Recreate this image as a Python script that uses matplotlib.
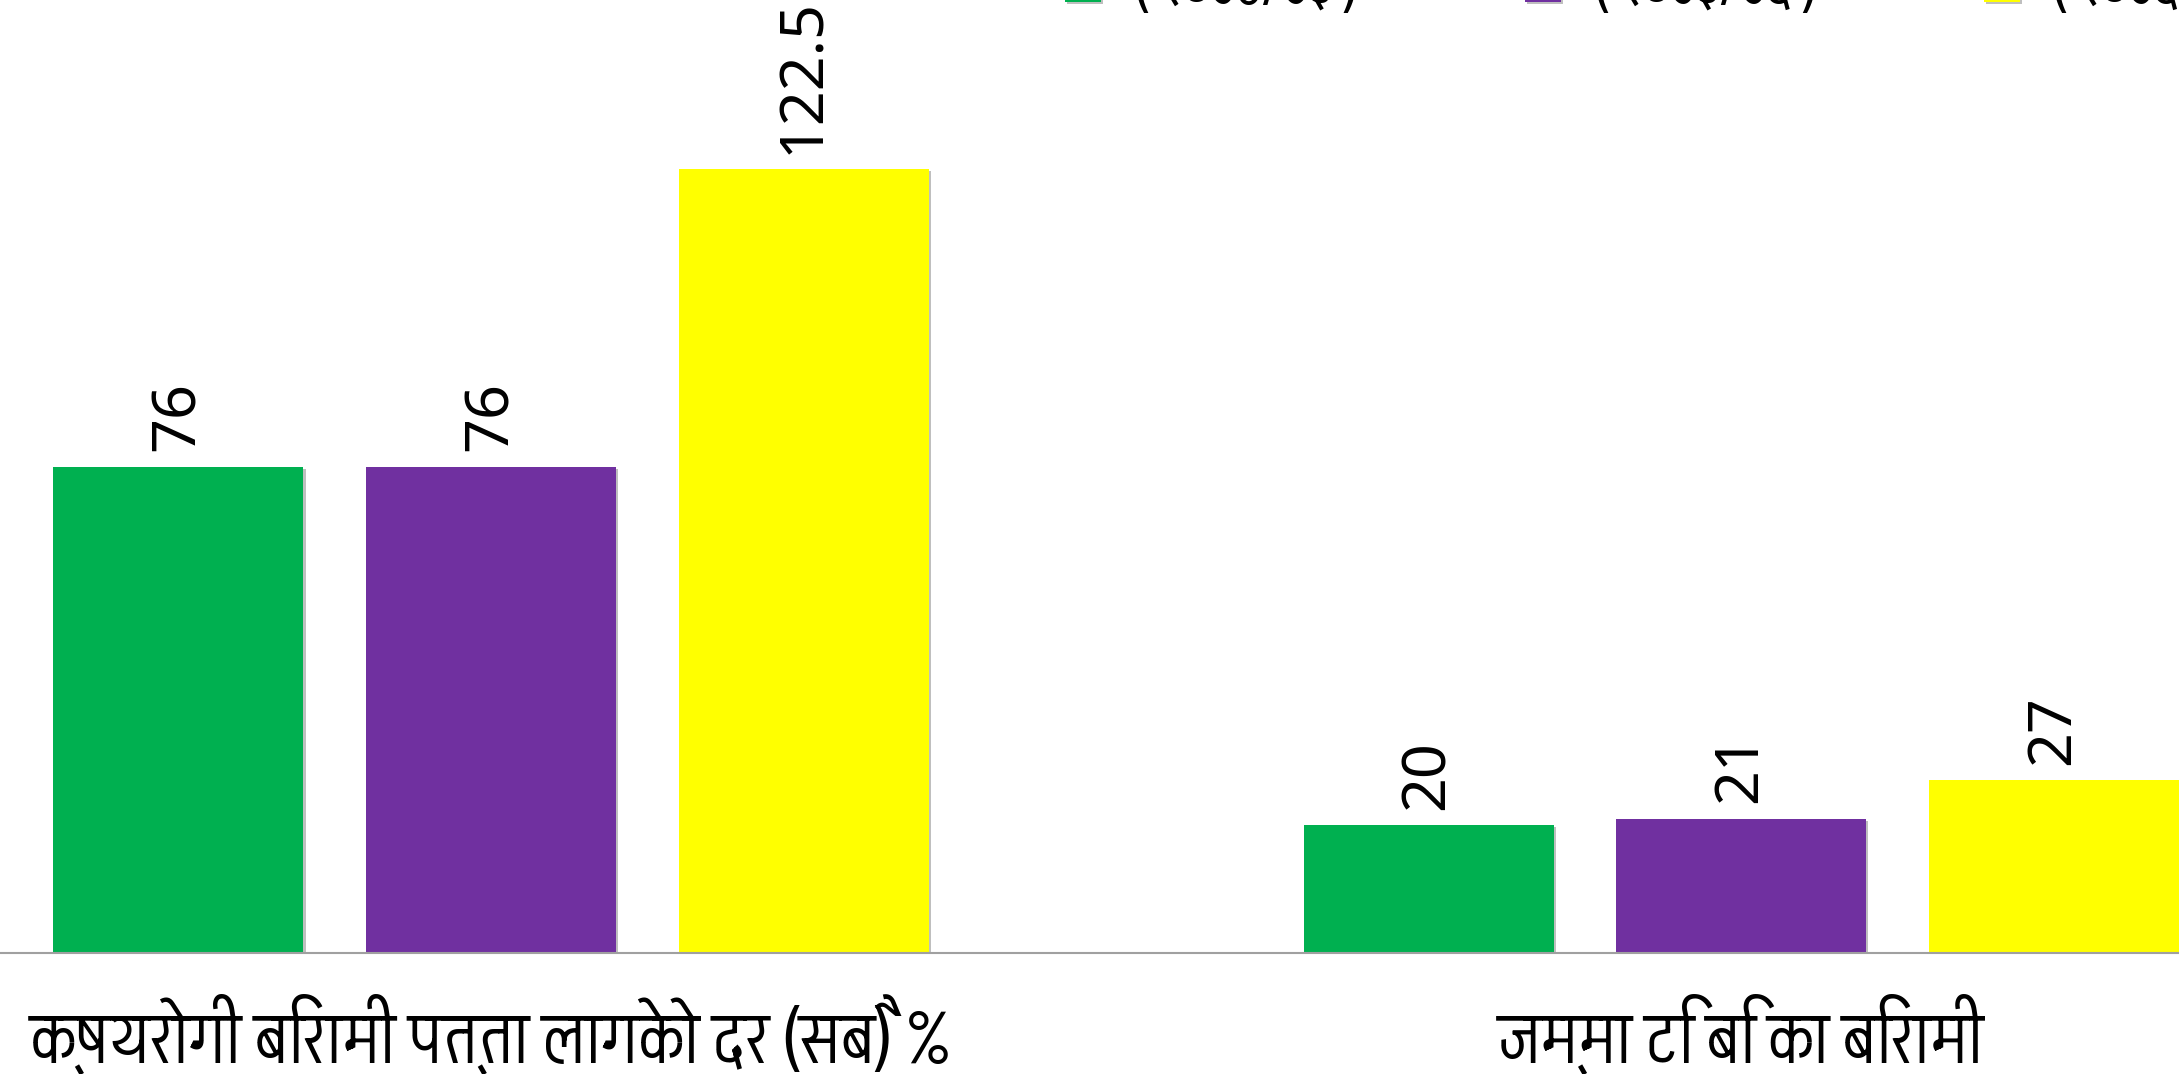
import matplotlib
matplotlib.use('Agg')
import matplotlib.pyplot as plt
import matplotlib.patheffects as pe
import numpy as np

# ---- data ----
categories = ['क्षयरोगी बिरामी पत्ता लागेको दर (सबै) %', 'जम्मा टि बि का बिरामी']
series_names = ['( २०७४/७५ )', '( २०७५/७६ )', '( २०७६/७७ )']
series1 = [76, 20]
series2 = [76, 21]
series3 = [122.5, 27]
colors = ['#00B050', '#7030A0', '#FFFF00']

plt.rcParams['font.family'] = ['Akshar', 'Noto Sans Devanagari', 'DejaVu Sans']

fig = plt.figure(figsize=(21.79, 10.74), dpi=100)
ax = fig.add_axes([0, 0.1127, 1, 0.8873])

x = np.arange(len(categories))
step = 0.25
width = 0.2
all_series = [series1, series2, series3]
for i, (vals, c, name) in enumerate(zip(all_series, colors, series_names)):
    bars = ax.bar(x + (i - 1) * step, vals, width, color=c, label=name,
                  path_effects=[pe.SimplePatchShadow(offset=(1.5, -1.5), shadow_rgbFace='#808080', alpha=0.5), pe.Normal()])
    for b, v in zip(bars, vals):
        ax.annotate(f'{v:g}', (b.get_x() + b.get_width() / 2, v), xytext=(0, 11),
                    textcoords='offset points', rotation=90, ha='center', va='bottom',
                    fontsize=44, family=['Noto Sans', 'DejaVu Sans'])

ax.set_xlim(-0.3928, 1.3504)
ax.set_ylim(0, 148.9)
for s in ['top', 'right', 'left']:
    ax.spines[s].set_visible(False)
ax.spines['bottom'].set_color('#A0A0A0')
ax.spines['bottom'].set_linewidth(1.5)
ax.set_yticks([])
ax.set_xticks(x)
ax.set_xticklabels(categories, fontsize=53)
ax.tick_params(axis='x', length=0, pad=31)

ax.legend(loc='lower left', bbox_to_anchor=(0.4888, 0.9833), ncol=3, frameon=False,
          fontsize=46, handlelength=0.56, handleheight=0.58, columnspacing=2.6,
          handletextpad=0.5, borderpad=0, borderaxespad=0,
          bbox_transform=fig.transFigure)

fig.savefig('out.png', dpi=100)
